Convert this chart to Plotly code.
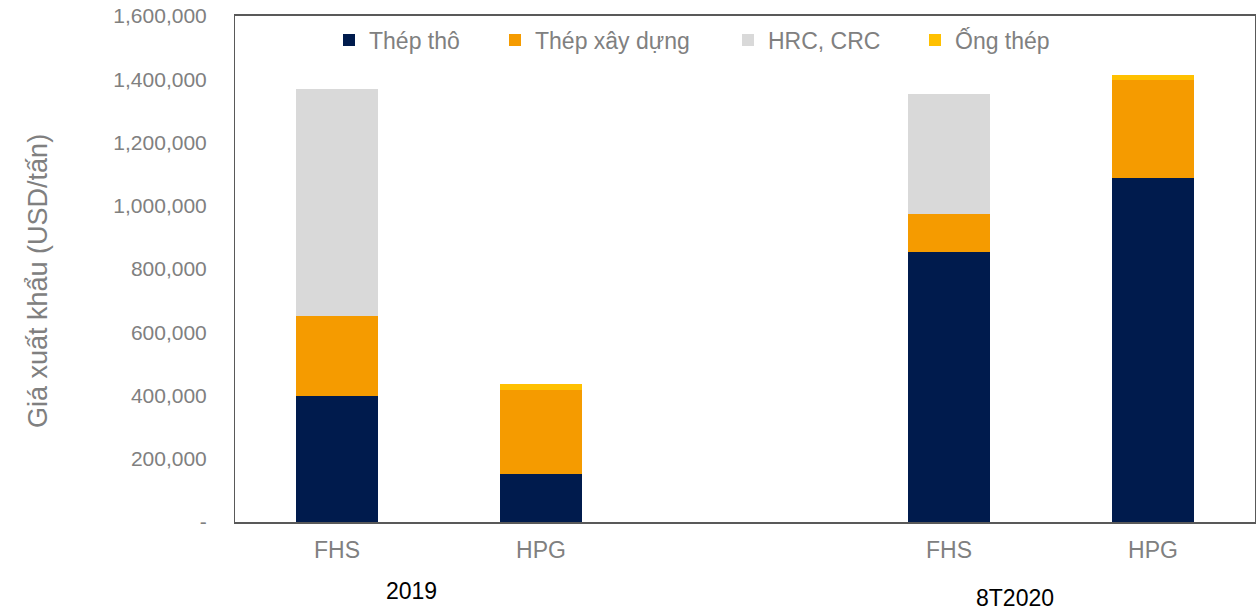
import plotly.graph_objects as go

# Categories (slot order on x axis; "gap" is an empty spacer slot)
slots = ["2019|FHS", "2019|HPG", "gap", "8T2020|FHS", "8T2020|HPG"]
slot_labels = ["FHS", "HPG", "", "FHS", "HPG"]
bar_slots = ["2019|FHS", "2019|HPG", "8T2020|FHS", "8T2020|HPG"]
group_labels = ["2019", "8T2020"]

thep_tho = [400000, 152000, 854000, 1089000]
thep_xay_dung = [252000, 266000, 121000, 310000]
hrc_crc = [718000, 0, 379000, 0]
ong_thep = [0, 19000, 0, 15000]

series = [
    ("Thép thô", thep_tho, "#001B4D"),
    ("Thép xây dựng", thep_xay_dung, "#F59B00"),
    ("HRC, CRC", hrc_crc, "#D9D9D9"),
    ("Ống thép", ong_thep, "#FFC000"),
]

y_ticks = [0, 200000, 400000, 600000, 800000, 1000000, 1200000, 1400000, 1600000]
y_ticktext = ["-"] + [f"{v:,}" for v in y_ticks[1:]]

# page geometry (pixels in the screenshot)
PL, PR, PT, PB = 235, 1255, 16, 522
PW, PH = PR - PL, PB - PT
def px(x):
    return (x - PL) / PW
def py(y):
    return (PB - y) / PH

legend_text_x = [369, 535, 768, 955]
legend_names = ["legend", "legend2", "legend3", "legend4"]

fig = go.Figure()
for (name, vals, color), lg in zip(series, legend_names):
    fig.add_trace(go.Bar(
        x=bar_slots, y=vals, name=name,
        marker=dict(color=color, line=dict(width=0)),
        width=0.4, legend=lg,
    ))

legend_common = dict(
    orientation="h", yanchor="middle", xanchor="left",
    font=dict(size=23, color="#808080"),
    bgcolor="rgba(0,0,0,0)", borderwidth=0,
)
layout_legends = {}
for lg, tx in zip(legend_names, legend_text_x):
    layout_legends[lg] = dict(legend_common, x=px(tx - 40), y=py(40))

fig.update_layout(
    barmode="stack",
    width=1258, height=613,
    margin=dict(l=PL, r=1258 - PR, t=PT, b=613 - PB),
    paper_bgcolor="white", plot_bgcolor="white",
    font=dict(family="Liberation Sans, Arial, sans-serif", color="#808080", size=18),
    showlegend=True,
    xaxis=dict(
        type="category", categoryorder="array", categoryarray=slots,
        tickmode="array", tickvals=slots, ticktext=slot_labels,
        showline=True, linecolor="#595959", linewidth=2, mirror=True,
        ticks="", showgrid=False, tickfont=dict(size=23, color="#808080"),
        range=[-0.5, 4.5], ticklabelstandoff=6,
    ),
    yaxis=dict(
        range=[0, 1600000], tickmode="array", tickvals=y_ticks, ticktext=y_ticktext,
        showline=True, linecolor="#595959", linewidth=1, mirror=True,
        showgrid=False, ticks="", zeroline=False,
        tickfont=dict(size=21, color="#808080"), ticklabelstandoff=23,
    ),
    **layout_legends,
)

fig.add_annotation(text="Giá xuất khẩu (USD/tấn)", xref="paper", yref="paper",
                   x=px(38), y=py(281), textangle=-90, showarrow=False,
                   xanchor="center", yanchor="middle",
                   font=dict(size=27, color="#808080"))
fig.add_annotation(text=group_labels[0], xref="paper", yref="paper", x=px(411), y=py(591),
                   showarrow=False, font=dict(size=23, color="#000000"),
                   xanchor="center", yanchor="middle", borderpad=0)
fig.add_annotation(text=group_labels[1], xref="paper", yref="paper", x=px(1015), y=py(598),
                   showarrow=False, font=dict(size=23, color="#000000"),
                   xanchor="center", yanchor="middle", borderpad=0)

fig.write_html("out.html", config={"displayModeBar": False},
               post_script="document.body.style.margin='0';")
